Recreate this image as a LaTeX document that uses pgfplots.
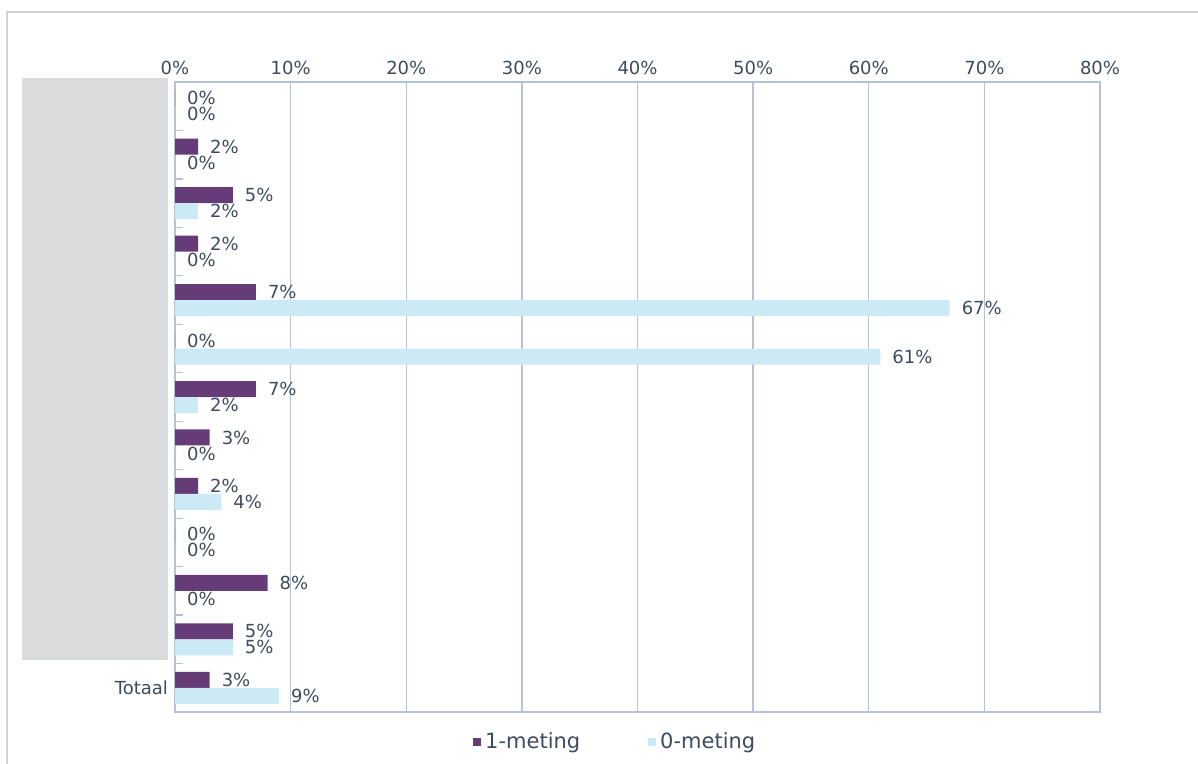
\documentclass[border=0pt]{standalone}
\usepackage{fontspec}
\setmainfont{DejaVu Sans}
\usepackage{pgfplots}
\pgfplotsset{compat=1.18}

\definecolor{meting1}{HTML}{663C78}
\definecolor{meting0}{HTML}{CCEAF6}
\definecolor{txt}{HTML}{3D4B5F}
\definecolor{gridc}{HTML}{B4C2D6}
\definecolor{boxgray}{HTML}{D9DBDD}

\pgfplotstableread{
idx  een  nul
0    0    0
1    2    0
2    5    2
3    2    0
4    7    67
5    0    61
6    7    2
7    3    0
8    2    4
9    0    0
10   8    0
11   5    5
12   3    9
}\metingdata

\begin{document}
\begin{tikzpicture}
  % page frame and the grey block over the category names
  \useasboundingbox (0pt,0pt) rectangle (599pt,382pt);
  \draw[black!18, line width=0.6pt] (3.5pt,0pt) -- (3.5pt,376pt) -- (599pt,376pt);
  \fill[boxgray] (11pt,52pt) rectangle (84pt,343pt);

  \begin{axis}[
      at={(87.5pt,26pt)}, anchor=south west,
      scale only axis,
      width=462.5pt, height=315pt,
      xbar, bar width=8pt,
      xmin=0, xmax=80,
      ymin=-0.5, ymax=12.5,
      y dir=reverse,
      xtick={0,10,...,80},
      xticklabel pos=top,
      xticklabel={\pgfmathprintnumber{\tick}\%},
      xmajorgrids,
      major x grid style={gridc, line width=0.7pt},
      x tick style={draw=none},
      ytick={0,...,12},
      yticklabels={,,,,,,,,,,,,Totaal},
      major y tick style={draw=none},
      minor ytick={0.5,1.5,...,11.5},
      minor y tick style={gridc, line width=0.6pt},
      minor tick length=4pt,
      ytick pos=left, tick align=inside,
      axis line style={gridc, line width=0.7pt},
      ticklabel style={font=\fontsize{9}{10}\selectfont, text=txt},
      /pgf/number format/assume math mode=true,
      point meta=x,
      nodes near coords={\pgfmathprintnumber{\pgfplotspointmeta}\%},
      nodes near coords style={anchor=west, xshift=2.5pt, font=\fontsize{9}{10}\selectfont, text=txt},
      legend columns=2,
      legend style={draw=none, fill=none, at={(0.477,-0.048)}, anchor=center,
        font=\fontsize{10.5}{12}\selectfont, text=txt,
        /tikz/every even column/.append style={column sep=32pt}},
      legend image code/.code={\fill[#1] (0pt,-2pt) rectangle (4pt,2pt);},
    ]
    \addplot[draw=none, fill=meting1, bar shift=4pt] table[x=een, y=idx] {\metingdata};
    \addlegendentry{1-meting}
    \addplot[draw=none, fill=meting0, bar shift=-4pt] table[x=nul, y=idx] {\metingdata};
    \addlegendentry{0-meting}
  \end{axis}
\end{tikzpicture}
\end{document}
